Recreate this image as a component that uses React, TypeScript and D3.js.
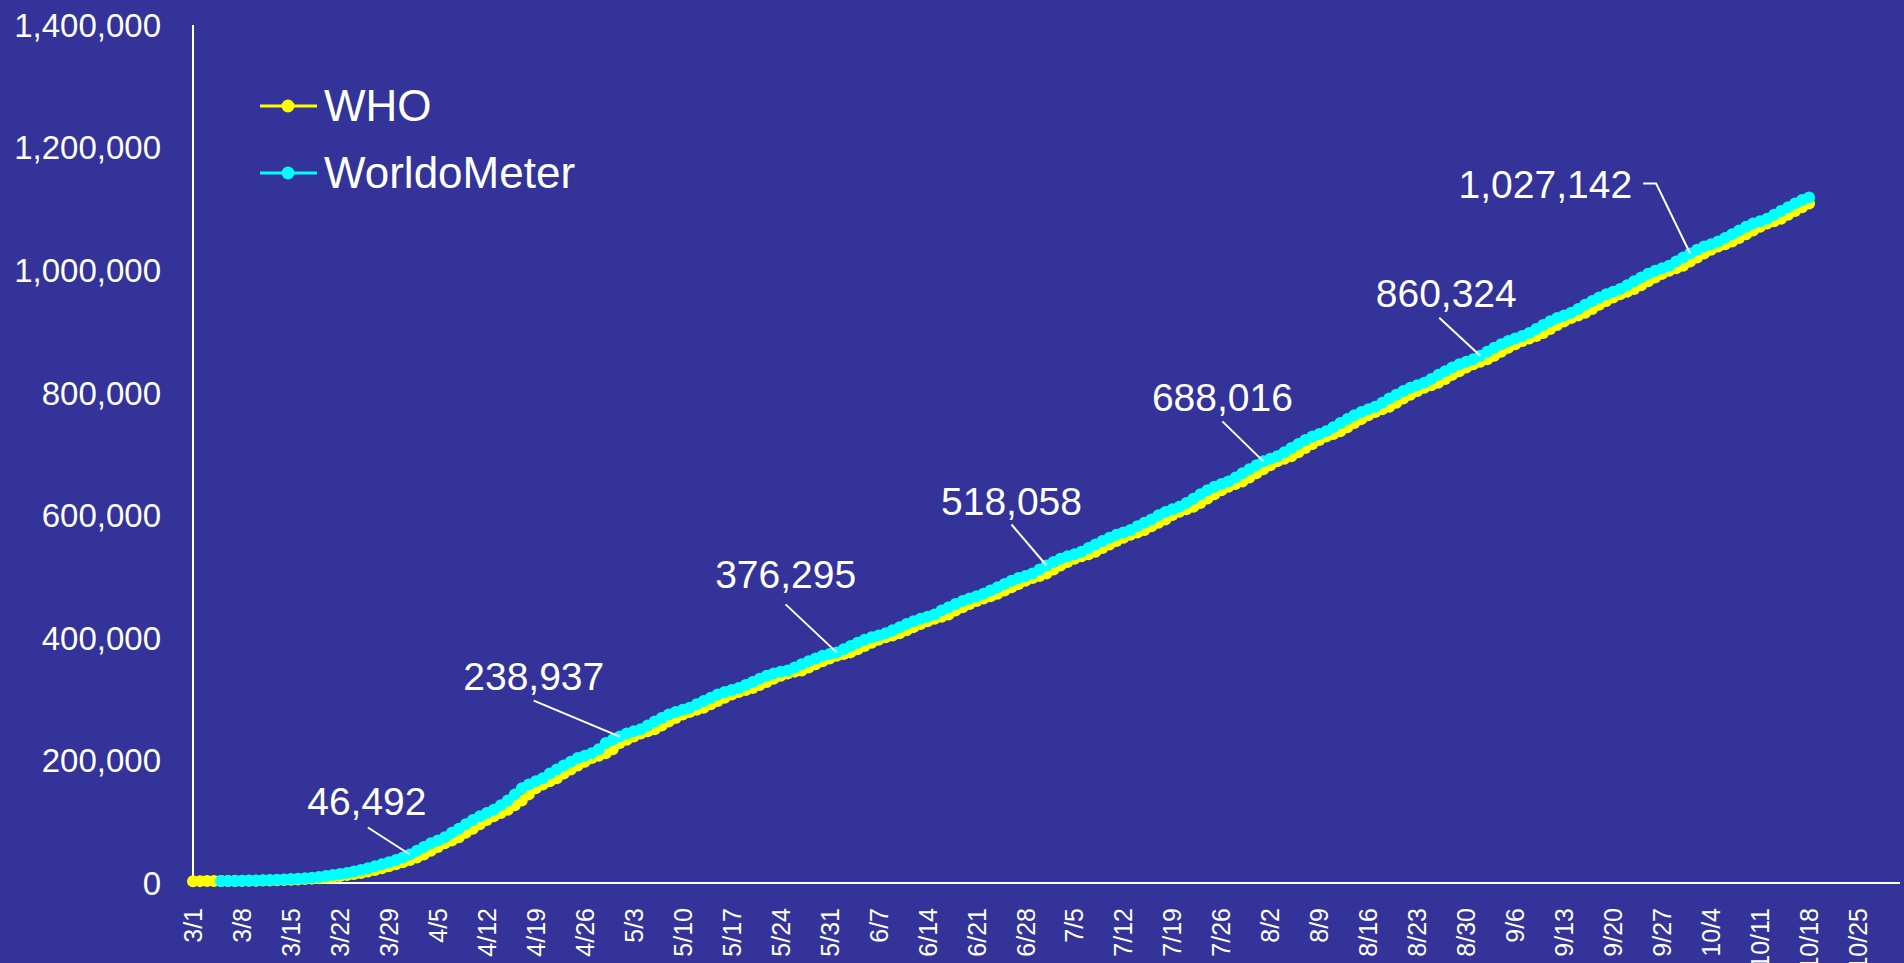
import React, { useEffect, useRef } from 'react';
import * as d3 from 'd3';

// cumulative deaths per day, 3/1/2020 .. 10/18/2020
const whoDeaths: number[] = [
  // March
  2977, 3050, 3110, 3160, 3250, 3300, 3350, 3460, 3560, 3800, 3990, 4260, 4610, 4720, 5400, 5820,
  6440, 7130, 7900, 8730, 9870, 11300, 12970, 14620, 16500, 18610, 21180, 23970, 27200, 30650, 33920,
  // April
  37580, 41800, 46490, 52800, 58900, 64700, 69500, 74700, 82000, 88500, 95700, 102700, 108800, 114300,
  119700, 126700, 134600, 144600, 154400, 160800, 165900, 170900, 178600, 185200, 191800, 198000,
  203800, 207600, 211600, 218200,
  // May
  228400, 233800, 238900, 244000, 247600, 251000, 256900, 263500, 269300, 274800, 279100, 282500,
  286100, 291700, 297000, 302200, 307400, 311800, 315000, 318300, 323100, 328000, 333200, 338000,
  342000, 344900, 346600, 351500, 357000, 361800, 366500,
  // June
  370700, 373700, 376300, 381300, 386700, 391900, 396900, 401000, 404000, 407500, 412600, 417500,
  422500, 427000, 431200, 434500, 438000, 444600, 450000, 455200, 460000, 464300, 468000, 471900,
  477400, 482600, 487700, 493300, 497600, 500800,
  // July
  505200, 511500, 518100, 523700, 529000, 533200, 536600, 540500, 546600, 552400, 558000, 563400,
  568200, 571900, 576000, 582000, 587700, 593300, 600300, 605600, 609800, 613800, 620100, 627200,
  634200, 640800, 646600, 650900, 655000, 661500, 668500,
  // August
  675200, 681800, 688000, 692300, 696500, 703000, 709900, 716500, 722800, 728400, 732800, 737300,
  743700, 750400, 756900, 763100, 768700, 772900, 777200, 783700, 790400, 796600, 802600, 808000,
  812100, 816100, 822500, 829100, 835200, 841100, 846400,
  // September
  850500, 854500, 860300, 867000, 873200, 879100, 884400, 888600, 892600, 897600, 904100, 910400,
  916400, 921800, 926000, 930300, 936700, 943400, 949600, 955500, 960800, 964900, 969100, 975400,
  981900, 988100, 993900, 999100, 1003100, 1007200,
  // October
  1014000, 1020700, 1027100, 1033100, 1038400, 1042400, 1046600, 1052600, 1058700, 1064700,
  1070800, 1076000, 1079900, 1084000, 1090200, 1096500, 1102600, 1108900,
];

const worldometerDeaths: (number | null)[] = [
  // March
  null, null, null, null,
  3348, 3460, 3558, 3802, 3988, 4262, 4615, 4720, 5404, 5819, 6440, 7126, 7905, 8733, 9867, 11299,
  12973, 14623, 16497, 18615, 21181, 23970, 27198, 30652, 33925, 37582, 41800,
  // April
  46492, 52800, 58900, 64700, 69500, 74700, 82000, 88500, 95700, 102700, 108800, 114300, 119700,
  126700, 134600, 144600, 154400, 160800, 165900, 170900, 178600, 185200, 191800, 198000, 203800,
  207600, 211600, 218200, 228400, 233800,
  // May
  238937, 244000, 247600, 251000, 256900, 263500, 269300, 274800, 279100, 282500, 286100, 291700,
  297000, 302200, 307400, 311800, 315000, 318300, 323100, 328000, 333200, 338000, 342000, 344900,
  346600, 351500, 357000, 361800, 366500, 370700, 373700,
  // June
  376295, 381300, 386700, 391900, 396900, 401000, 404000, 407500, 412600, 417500, 422500, 427000,
  431200, 434500, 438000, 444600, 450000, 455200, 460000, 464300, 468000, 471900, 477400, 482600,
  487700, 493300, 497600, 500800, 505200, 511500,
  // July
  518058, 523658, 528958, 533158, 536558, 540458, 546558, 552358, 557958, 563358, 568158, 571858,
  575958, 581958, 587658, 593258, 600258, 605558, 609758, 613758, 620058, 627158, 634158, 640758,
  646558, 650858, 654958, 661458, 668458, 675158, 681758,
  // August
  688016, 692316, 696516, 703016, 709916, 716516, 722816, 728416, 732816, 737316, 743716, 750416,
  756916, 763116, 768716, 772916, 777216, 783716, 790416, 796616, 802616, 808016, 812116, 816116,
  822516, 829116, 835216, 841116, 846416, 850516, 854516,
  // September
  860324, 867024, 873224, 879124, 884424, 888624, 892624, 897624, 904124, 910424, 916424, 921824,
  926024, 930324, 936724, 943424, 949624, 955524, 960824, 964924, 969124, 975424, 981924, 988124,
  993924, 999124, 1003124, 1007224, 1014024, 1020724,
  // October
  1027142, 1033142, 1038442, 1042442, 1046642, 1052642, 1058742, 1064742, 1070842, 1076042,
  1079942, 1084042, 1090242, 1096542, 1102642, 1108942, 1114342, 1118542,
];

const yTicks = [0, 200000, 400000, 600000, 800000, 1000000, 1200000, 1400000];

const xTickLabels = [
  '3/1', '3/8', '3/15', '3/22', '3/29', '4/5', '4/12', '4/19', '4/26', '5/3', '5/10', '5/17',
  '5/24', '5/31', '6/7', '6/14', '6/21', '6/28', '7/5', '7/12', '7/19', '7/26', '8/2', '8/9',
  '8/16', '8/23', '8/30', '9/6', '9/13', '9/20', '9/27', '10/4', '10/11', '10/18', '10/25',
];

// callouts: date and WorldoMeter value
const calloutDates = ['4/1', '5/1', '6/1', '7/1', '8/1', '9/1', '10/1'];
const calloutValues = [46492, 238937, 376295, 518058, 688016, 860324, 1027142];

const seriesNames = ['WHO', 'WorldoMeter'];
const seriesColors = ['#ffff00', '#00ffff'];

// label offsets (px) from the data point: leader start, text anchor
const calloutLayout = [
  { lx: -42, ly: -27, tx: -43, ty: -40, anchor: 'middle' },
  { lx: -86, ly: -36, tx: -86, ty: -47, anchor: 'middle' },
  { lx: -51, ly: -48, tx: -51, ty: -64, anchor: 'middle' },
  { lx: -35, ly: -41, tx: -35, ty: -51, anchor: 'middle' },
  { lx: -41, ly: -40, tx: -41, ty: -50, anchor: 'middle' },
  { lx: -41, ly: -38, tx: -34, ty: -49, anchor: 'middle' },
  { lx: -47, ly: -70, tx: -58, ty: -56, anchor: 'end', bx: -34 },
];

const FONT = '"Liberation Sans", Arial, sans-serif';
const BG = '#333399';

const dayIndex = (label: string) => {
  const [m, d] = label.split('/').map(Number);
  const start = Date.UTC(2020, 2, 1);
  return Math.round((Date.UTC(2020, m - 1, d) - start) / 86400000);
};

const App: React.FC = () => {
  const svgRef = useRef<SVGSVGElement>(null);

  useEffect(() => {
    if (!svgRef.current) return;
    document.body.style.margin = '0';

    const width = 1904;
    const height = 963;
    const svg = d3.select(svgRef.current);
    svg.selectAll('*').remove();
    svg.attr('width', width).attr('height', height);

    svg.append('rect').attr('width', width).attr('height', height).attr('fill', BG);

    // category axis 3/1 .. 10/31 (245 days)
    const xScale = d3.scaleLinear().domain([0, 244]).range([193, 1900]);
    const yScale = d3.scaleLinear().domain([0, 1400000]).range([883, 25]);
    const fmt = d3.format(',');

    // y labels
    svg.selectAll('.y-label')
      .data(yTicks)
      .enter()
      .append('text')
      .attr('class', 'y-label')
      .attr('x', 161)
      .attr('y', d => yScale(d))
      .attr('dy', '0.36em')
      .attr('text-anchor', 'end')
      .attr('font-family', FONT)
      .attr('font-size', 33)
      .attr('fill', '#fff')
      .text(d => fmt(d));

    // x labels
    svg.selectAll('.x-label')
      .data(xTickLabels)
      .enter()
      .append('text')
      .attr('class', 'x-label')
      .attr('transform', (d, i) => `translate(${xScale(i * 7)},908) rotate(-90)`)
      .attr('dy', '0.36em')
      .attr('text-anchor', 'end')
      .attr('font-family', FONT)
      .attr('font-size', 25)
      .attr('fill', '#fff')
      .text(d => d);

    // axis lines
    svg.append('line')
      .attr('x1', xScale(0)).attr('x2', xScale(0))
      .attr('y1', yScale(1400000)).attr('y2', yScale(0))
      .attr('stroke', '#fff').attr('stroke-width', 2);
    svg.append('line')
      .attr('x1', xScale(0)).attr('x2', xScale(244))
      .attr('y1', yScale(0)).attr('y2', yScale(0))
      .attr('stroke', '#fff').attr('stroke-width', 2);

    // series
    const allSeries = [whoDeaths as (number | null)[], worldometerDeaths];
    allSeries.forEach((values, si) => {
      const pts = values
        .map((v, i) => ({ i, v }))
        .filter(p => p.v !== null) as { i: number; v: number }[];
      const line = d3.line<{ i: number; v: number }>()
        .x(p => xScale(p.i))
        .y(p => yScale(p.v));
      const g = svg.append('g');
      g.append('path')
        .attr('d', line(pts) || '')
        .attr('fill', 'none')
        .attr('stroke', seriesColors[si])
        .attr('stroke-width', 3);
      g.selectAll('circle')
        .data(pts)
        .enter()
        .append('circle')
        .attr('cx', p => xScale(p.i))
        .attr('cy', p => yScale(p.v))
        .attr('r', 6)
        .attr('fill', seriesColors[si]);
    });

    // callouts
    calloutDates.forEach((date, k) => {
      const px = xScale(dayIndex(date));
      const py = yScale(calloutValues[k]);
      const c = calloutLayout[k];
      const pts: [number, number][] = [[px + c.lx, py + c.ly]];
      if (c.bx !== undefined) pts.push([px + c.bx, py + c.ly]);
      pts.push([px, py]);
      svg.append('path')
        .attr('d', d3.line()(pts) || '')
        .attr('fill', 'none')
        .attr('stroke', '#fff')
        .attr('stroke-width', 2);
      svg.append('text')
        .attr('x', px + c.tx)
        .attr('y', py + c.ty)
        .attr('text-anchor', c.anchor)
        .attr('font-family', FONT)
        .attr('font-size', 39)
        .attr('fill', '#fff')
        .text(fmt(calloutValues[k]));
    });

    // legend
    const legend = svg.append('g').attr('transform', 'translate(260,106)');
    seriesNames.forEach((name, i) => {
      const row = legend.append('g').attr('transform', `translate(0,${i * 67})`);
      row.append('line')
        .attr('x1', 0).attr('x2', 57)
        .attr('stroke', seriesColors[i]).attr('stroke-width', 3);
      row.append('circle').attr('cx', 28).attr('r', 6.5).attr('fill', seriesColors[i]);
      row.append('text')
        .attr('x', 64)
        .attr('dy', '0.33em')
        .attr('font-family', FONT)
        .attr('font-size', 44)
        .attr('fill', '#fff')
        .text(name);
    });
  }, []);

  return <svg ref={svgRef} style={{ display: 'block', position: 'absolute', left: 0, top: 0 }}></svg>;
};

export default App;
